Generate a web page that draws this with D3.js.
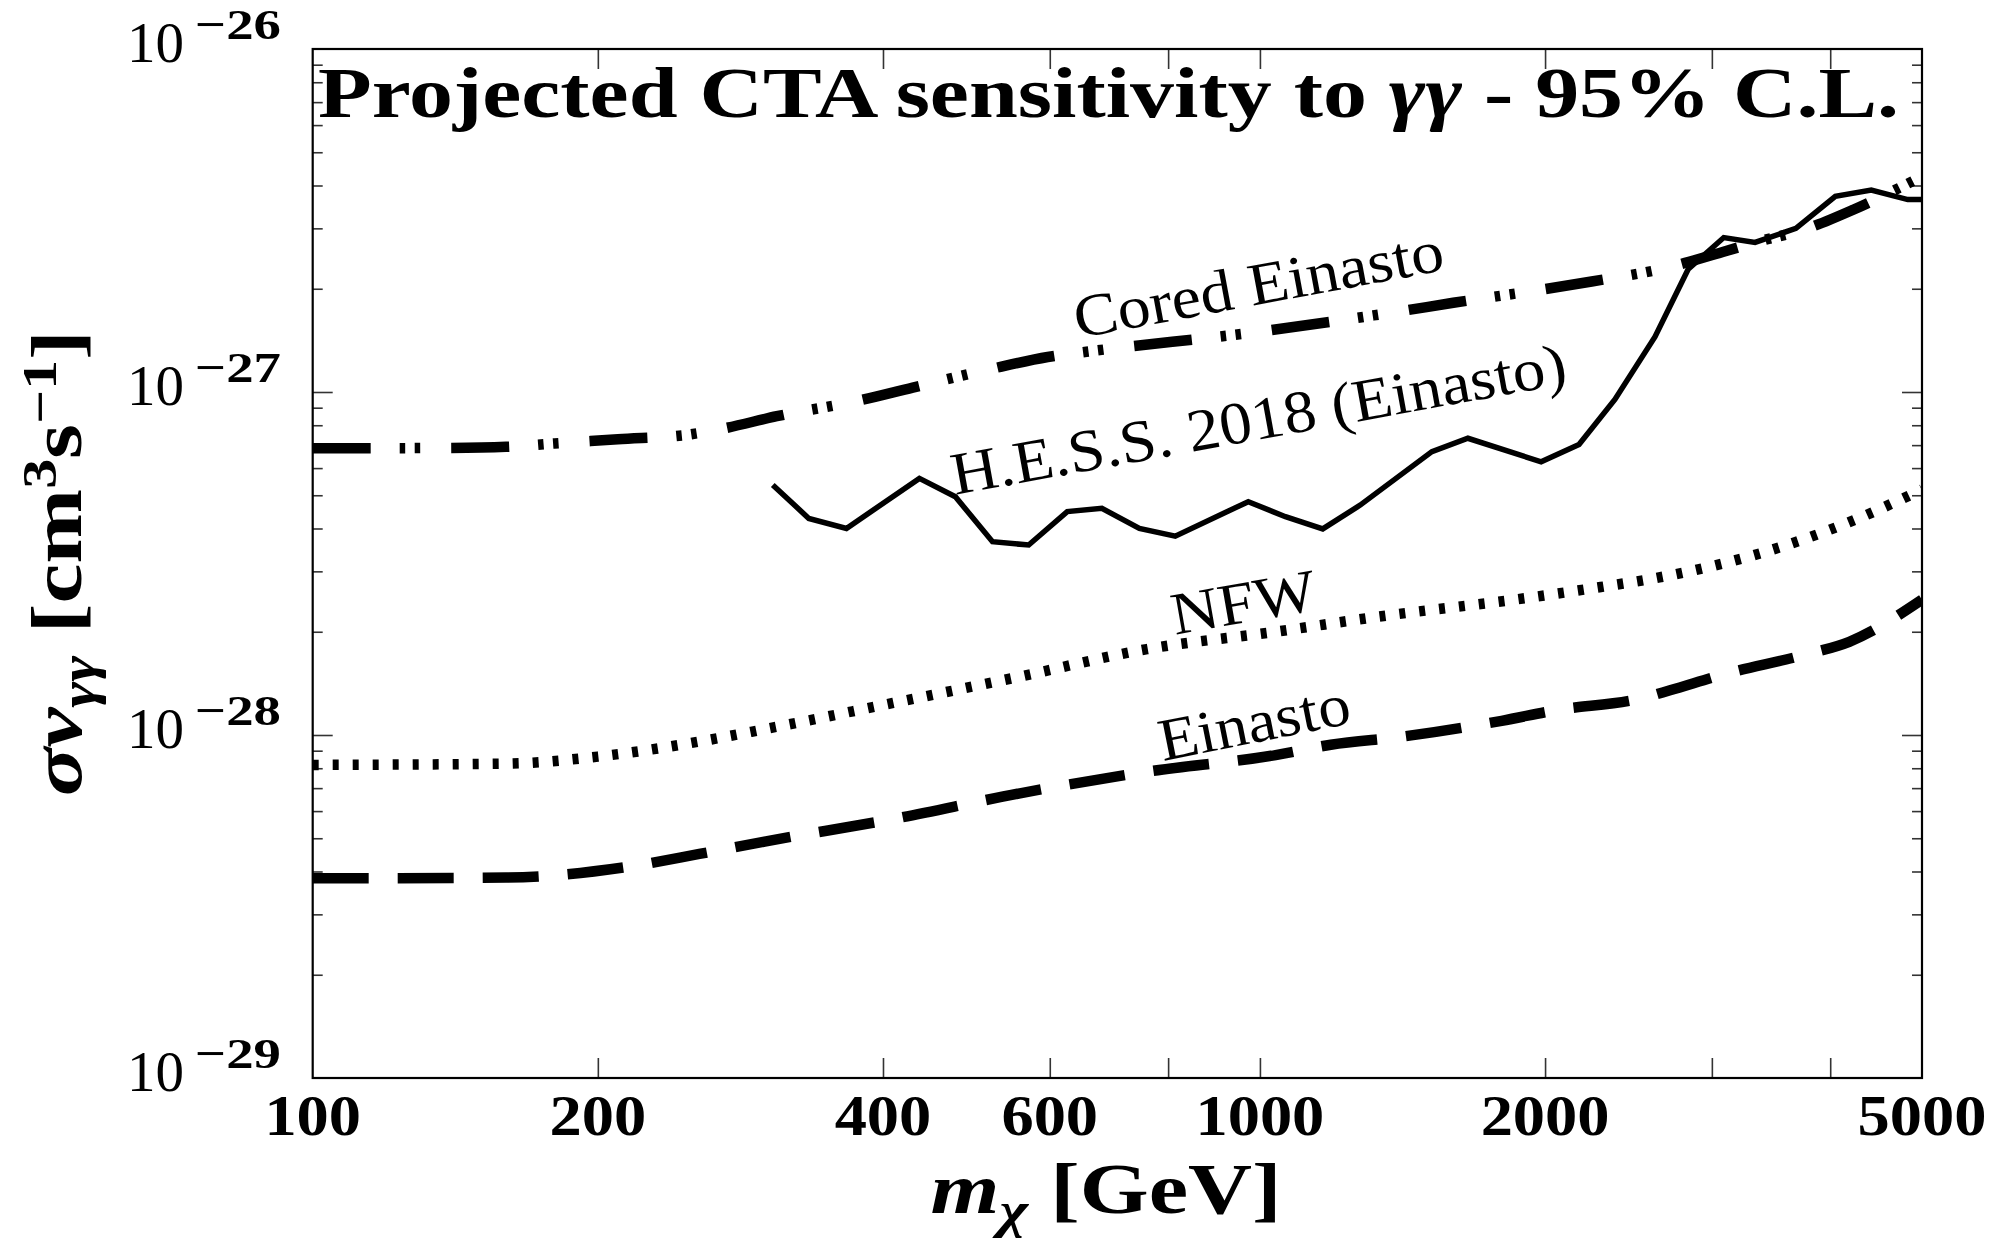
<!DOCTYPE html>
<html>
<head>
<meta charset="utf-8">
<script src="https://cdn.jsdelivr.net/npm/d3@7"></script>
<style>
  body { margin: 0; background: #fff; }
  text { font-family: "Liberation Serif", "DejaVu Serif", serif; fill: #000; }
</style>
</head>
<body>
<svg id="chart"></svg>
<script>
// axis ticks and labels
const massTicks = [200, 400, 600, 800, 1000, 2000, 3000, 4000];
const massLabels = [100, 200, 400, 600, 1000, 2000, 5000];
const sigmaDecades = [-26, -27, -28, -29];

// H.E.S.S. 2018 (Einasto) limit, solid
const hessMass = [306, 334, 366, 437, 477, 522, 570, 626, 681, 746, 814, 972, 1064, 1165, 1276,
  1519, 1658, 1981, 2172, 2370, 2613, 2832, 3088, 3332, 3680, 4050, 4420, 4830, 5000];
const hessSigma = [5.36e-28, 4.28e-28, 4.00e-28, 5.60e-28, 4.95e-28, 3.66e-28, 3.58e-28, 4.48e-28,
  4.58e-28, 4.00e-28, 3.80e-28, 4.79e-28, 4.33e-28, 3.99e-28, 4.68e-28, 6.70e-28, 7.33e-28,
  6.26e-28, 7.03e-28, 9.51e-28, 1.45e-27, 2.28e-27, 2.82e-27, 2.73e-27, 3.00e-27, 3.72e-27,
  3.88e-27, 3.64e-27, 3.64e-27];

// CTA projections
const coredMass = [100, 140, 160, 180, 210, 250, 271, 309, 376, 430, 522, 597, 656, 1000, 1408,
  1600, 1940, 2240, 2700, 3080, 3400, 3730, 4230, 4760, 5000];
const coredSigma = [6.85e-28, 6.87e-28, 6.92e-28, 7.08e-28, 7.28e-28, 7.52e-28, 7.82e-28, 8.50e-28,
  9.42e-28, 1.03e-27, 1.17e-27, 1.265e-27, 1.31e-27, 1.50e-27, 1.72e-27, 1.82e-27, 1.97e-27,
  2.10e-27, 2.31e-27, 2.56e-27, 2.77e-27, 2.96e-27, 3.40e-27, 3.97e-27, 4.25e-27];

const nfwMass = [100, 160, 200, 256, 300, 410, 558, 760, 1039, 1313, 1934, 2290, 2640, 3600, 4300, 5000];
const nfwSigma = [8.18e-29, 8.25e-29, 8.65e-29, 9.57e-29, 1.04e-28, 1.24e-28, 1.48e-28, 1.78e-28,
  2.00e-28, 2.20e-28, 2.52e-28, 2.70e-28, 2.88e-28, 3.58e-28, 4.30e-28, 5.20e-28];

const einMass = [100, 160, 214, 256, 300, 410, 558, 761, 1039, 1188, 1417, 1800, 2050, 2530, 2710,
  3080, 3780, 4190, 5000];
const einSigma = [3.82e-29, 3.84e-29, 4.12e-29, 4.50e-29, 4.89e-29, 5.69e-29, 6.76e-29, 7.82e-29,
  8.74e-29, 9.37e-29, 9.90e-29, 1.10e-28, 1.18e-28, 1.28e-28, 1.35e-28, 1.50e-28, 1.72e-28,
  1.87e-28, 2.48e-28];

const width = 2000, height = 1256;
const pL = 312.7, pR = 1922, pT = 49, pB = 1078;

const svg = d3.select('#chart').attr('width', width).attr('height', height);

const x = d3.scaleLog().domain([100, 5000]).range([pL, pR]);
const y = d3.scaleLog().domain([1e-29, 1e-26]).range([pB, pT]);

// minor y ticks 2..9 per decade
const minorY = [];
[-29, -28, -27].forEach(e => { for (let k = 2; k <= 9; k++) minorY.push(k * Math.pow(10, e)); });
const majorY = [1e-28, 1e-27];

function tickAxis(axis, tx, ty, len) {
  const g = svg.append('g')
    .attr('transform', `translate(${tx},${ty})`)
    .call(axis.tickSize(len).tickFormat(''));
  g.select('.domain').remove();
  g.selectAll('line').attr('stroke', '#333').attr('stroke-width', 1.6);
}

tickAxis(d3.axisBottom(x).tickValues(massTicks), 0, pB, -20);
tickAxis(d3.axisTop(x).tickValues(massTicks), 0, pT, -20);
tickAxis(d3.axisLeft(y).tickValues(minorY), pL, 0, -10);
tickAxis(d3.axisLeft(y).tickValues(majorY), pL, 0, -20);
tickAxis(d3.axisRight(y).tickValues(minorY), pR, 0, -10);
tickAxis(d3.axisRight(y).tickValues(majorY), pR, 0, -20);

svg.append('rect')
  .attr('x', pL).attr('y', pT)
  .attr('width', pR - pL).attr('height', pB - pT)
  .attr('fill', 'none').attr('stroke', '#000').attr('stroke-width', 2.2);

// clip for curves
svg.append('clipPath').attr('id', 'plotclip')
  .append('rect').attr('x', pL).attr('y', pT)
  .attr('width', pR - pL).attr('height', pB - pT);

const plot = svg.append('g').attr('clip-path', 'url(#plotclip)');

const smooth = d3.line().x(d => x(d[0])).y(d => y(d[1])).curve(d3.curveMonotoneX);
const straight = d3.line().x(d => x(d[0])).y(d => y(d[1]));

const zip = (a, b) => a.map((v, i) => [v, b[i]]);

plot.append('path')
  .attr('d', smooth(zip(coredMass, coredSigma)))
  .attr('fill', 'none').attr('stroke', '#000').attr('stroke-width', 10.5)
  .attr('stroke-dasharray', '58 29 5.5 9.5 5.5 31');

plot.append('path')
  .attr('d', smooth(zip(nfwMass, nfwSigma)))
  .attr('fill', 'none').attr('stroke', '#000').attr('stroke-width', 10.5)
  .attr('stroke-dasharray', '6 14');

plot.append('path')
  .attr('d', smooth(zip(einMass, einSigma)))
  .attr('fill', 'none').attr('stroke', '#000').attr('stroke-width', 10.5)
  .attr('stroke-dasharray', '56 29');

plot.append('path')
  .attr('d', straight(zip(hessMass, hessSigma)))
  .attr('fill', 'none').attr('stroke', '#000').attr('stroke-width', 5.5)
  .attr('stroke-linejoin', 'miter');

// x tick labels
svg.append('g').selectAll('text')
  .data(massLabels).enter().append('text')
  .attr('x', d => x(d))
  .attr('y', 1135)
  .attr('text-anchor', 'middle')
  .attr('font-size', 56)
  .attr('font-weight', 'bold')
  .attr('textLength', d => String(d).length * 0.575 * 56)
  .attr('lengthAdjust', 'spacingAndGlyphs')
  .text(d => d);

// y tick labels: 10^{e}
const yLab = svg.append('g').selectAll('g')
  .data(sigmaDecades).enter().append('g');
yLab.append('text')
  .attr('x', 184).attr('y', d => y(Math.pow(10, d)) + 13)
  .attr('text-anchor', 'end').attr('font-size', 57)
  .text('10');
yLab.append('text')
  .attr('x', 281).attr('y', d => y(Math.pow(10, d)) - 10)
  .attr('text-anchor', 'end').attr('font-size', 43).attr('font-weight', 'bold')
  .attr('textLength', 86).attr('lengthAdjust', 'spacingAndGlyphs')
  .text(d => '\u2212' + Math.abs(d));

// title
const title = svg.append('text')
  .attr('x', 318).attr('y', 117)
  .attr('font-size', 72).attr('font-weight', 'bold')
  .attr('textLength', 1581).attr('lengthAdjust', 'spacingAndGlyphs');
title.append('tspan').text('Projected CTA sensitivity to ');
title.append('tspan').attr('font-style', 'italic').text('\u03B3\u03B3');
title.append('tspan').text(' - 95% C.L.');

// axis labels
const xl = svg.append('text')
  .attr('x', 1106).attr('y', 1213)
  .attr('text-anchor', 'middle').attr('font-size', 72).attr('font-weight', 'bold')
  .attr('textLength', 351).attr('lengthAdjust', 'spacingAndGlyphs');
xl.append('tspan').attr('font-style', 'italic').text('m');
xl.append('tspan').attr('font-style', 'italic').attr('font-size', 50).attr('dy', 14).text('\u03C7');
xl.append('tspan').attr('dy', -14).text(' [GeV]');

const yl = svg.append('text')
  .attr('transform', 'translate(81,563) rotate(-90)')
  .attr('text-anchor', 'middle').attr('font-size', 72).attr('font-weight', 'bold')
  .attr('textLength', 466).attr('lengthAdjust', 'spacingAndGlyphs');
yl.append('tspan').attr('font-style', 'italic').text('\u03C3v');
yl.append('tspan').attr('font-style', 'italic').attr('font-size', 50).attr('dy', 14).text('\u03B3\u03B3');
yl.append('tspan').attr('dy', -14).text(' [cm');
yl.append('tspan').attr('font-size', 48).attr('dy', -25).text('3');
yl.append('tspan').attr('dy', 25).text('s');
yl.append('tspan').attr('font-size', 48).attr('dy', -25).text('\u22121');
yl.append('tspan').attr('dy', 25).text(']');

// curve annotations
const notes = [
  { label: 'Cored Einasto', cx: 1262, cy: 304, angle: -10.5, len: 375 },
  { label: 'H.E.S.S. 2018 (Einasto)', cx: 1262, cy: 439, angle: -10.3, len: 624 },
  { label: 'NFW', cx: 1247, cy: 622, angle: -10, len: 146 },
  { label: 'Einasto', cx: 1258, cy: 742, angle: -11.3, len: 194 }
];
svg.append('g').selectAll('text')
  .data(notes).enter().append('text')
  .attr('transform', d => `translate(${d.cx},${d.cy}) rotate(${d.angle})`)
  .attr('text-anchor', 'middle')
  .attr('font-size', 60)
  .attr('textLength', d => d.len)
  .attr('lengthAdjust', 'spacingAndGlyphs')
  .text(d => d.label);
</script>
</body>
</html>
